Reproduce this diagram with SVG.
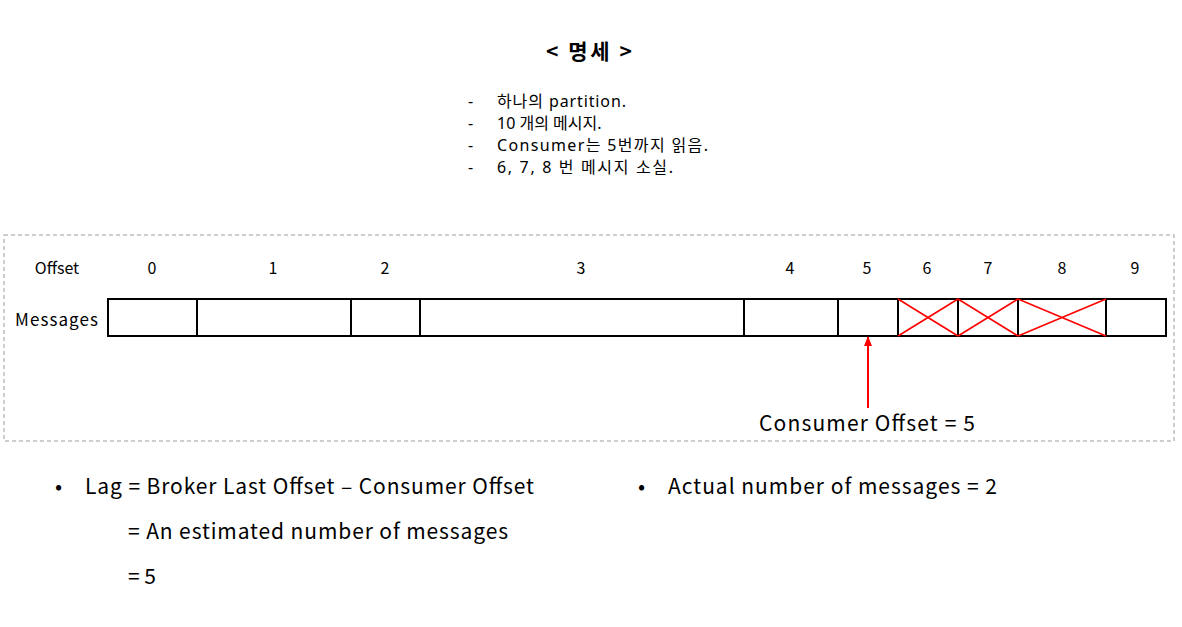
<svg xmlns="http://www.w3.org/2000/svg" width="1182" height="627" viewBox="0 0 1182 627">
<defs>
<style>
text{font-family:"Noto Sans CJK KR","Noto Sans",sans-serif;fill:#000}
.lbl{font-size:16px;text-anchor:middle}
.big{font-size:21px}
.sp{font-family:"Noto Sans","Noto Sans CJK KR",sans-serif;font-size:16px}
.cell{fill:#fff;stroke:#000;stroke-width:2}
.x{stroke:#ff0000;stroke-width:1.6}
</style>
<marker id="ah" markerWidth="10" markerHeight="10" refX="9" refY="5" orient="auto" markerUnits="userSpaceOnUse" viewBox="0 0 10 10">
<path d="M0,1 L10,5 L0,9 Z" fill="#ff0000"/>
</marker>
</defs>
<rect width="1182" height="627" fill="#fff"/>
<g id="title">
<text x="589" y="59" style="font-size:21px;font-weight:bold" text-anchor="middle" textLength="86" lengthAdjust="spacing">&lt; 명세 &gt;</text>
</g>
<g id="spec">
<text class="sp" x="468" y="107">-</text><text class="sp" x="497" y="107" textLength="129" lengthAdjust="spacing">하나의 partition.</text>
<text class="sp" x="468" y="129">-</text><text class="sp" x="497" y="129">10 개의 메시지.</text>
<text class="sp" x="468" y="151">-</text><text class="sp" x="497" y="151" textLength="211" lengthAdjust="spacing">Consumer는 5번까지 읽음.</text>
<text class="sp" x="468" y="173">-</text><text class="sp" x="497" y="173" textLength="176" lengthAdjust="spacing">6, 7, 8 번 메시지 소실.</text>
</g>
<g id="frame">
<rect x="4" y="235" width="1170" height="206" fill="none" stroke="#bfbfbf" stroke-width="1.5" stroke-dasharray="4,3"/>
</g>
<g id="offsets">
<text class="lbl" x="57" y="274">Offset</text>
<text class="lbl" x="152" y="274">0</text>
<text class="lbl" x="273" y="274">1</text>
<text class="lbl" x="385" y="274">2</text>
<text class="lbl" x="581" y="274">3</text>
<text class="lbl" x="790" y="274">4</text>
<text class="lbl" x="867" y="274">5</text>
<text class="lbl" x="927" y="274">6</text>
<text class="lbl" x="988" y="274">7</text>
<text class="lbl" x="1062" y="274">8</text>
<text class="lbl" x="1135" y="274">9</text>
<text x="15" y="326" style="font-size:17px" textLength="83" lengthAdjust="spacing">Messages</text>
</g>
<g id="messages">
<rect class="cell" x="108" y="299" width="89" height="37"/>
<rect class="cell" x="197" y="299" width="154" height="37"/>
<rect class="cell" x="351" y="299" width="69" height="37"/>
<rect class="cell" x="420" y="299" width="324" height="37"/>
<rect class="cell" x="744" y="299" width="94" height="37"/>
<rect class="cell" x="838" y="299" width="60" height="37"/>
<rect class="cell" x="898" y="299" width="60" height="37"/>
<rect class="cell" x="958" y="299" width="60" height="37"/>
<rect class="cell" x="1018" y="299" width="88" height="37"/>
<rect class="cell" x="1106" y="299" width="60" height="37"/>
</g>
<g id="lost">
<path class="x" d="M898,299 L958,336 M958,299 L898,336 M958,299 L1018,336 M1018,299 L958,336 M1018,299 L1106,336 M1106,299 L1018,336"/>
</g>
<g id="connectors">
<line x1="868" y1="408" x2="868" y2="337" stroke="#ff0000" stroke-width="2" marker-end="url(#ah)"/>
</g>
<g id="consumer-offset">
<text class="big" x="759" y="431" textLength="216" lengthAdjust="spacing">Consumer Offset = 5</text>
</g>
<g id="notes">
<text x="55" y="494" class="big">•</text>
<text x="85" y="494" class="big" textLength="449" lengthAdjust="spacing">Lag = Broker Last Offset – Consumer Offset</text>
<text x="128" y="539" class="big" textLength="380" lengthAdjust="spacing">= An estimated number of messages</text>
<text x="128" y="584" class="big">= 5</text>
<text x="638" y="494" class="big">•</text>
<text x="668" y="494" class="big" textLength="329" lengthAdjust="spacing">Actual number of messages = 2</text>
</g>
</svg>
